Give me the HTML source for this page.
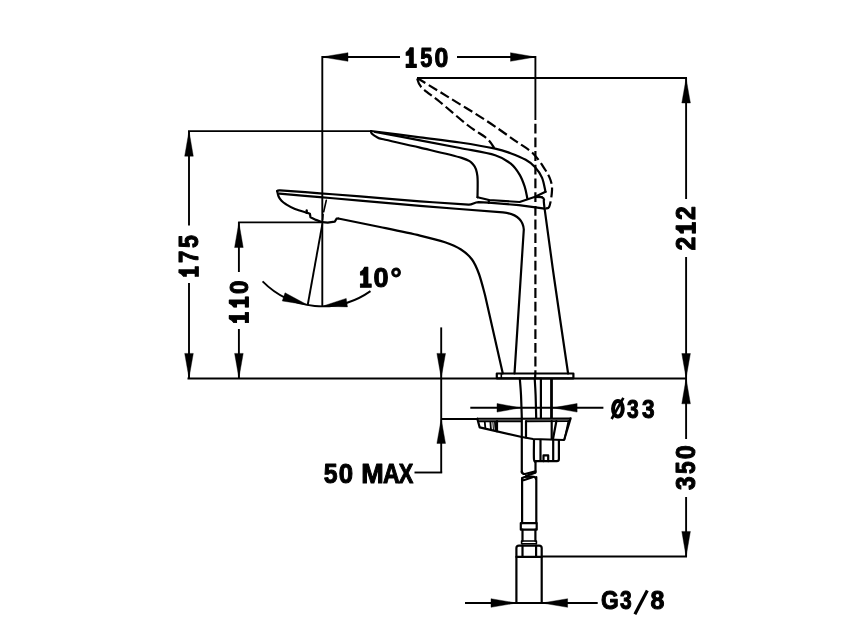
<!DOCTYPE html>
<html><head><meta charset="utf-8"><style>
html,body{margin:0;padding:0;background:#fff;width:855px;height:640px;overflow:hidden}
svg{display:block;will-change:transform}
.m{fill:none;stroke:#000;stroke-width:1.9;stroke-linecap:butt}
.d{fill:none;stroke:#000;stroke-width:2.2;stroke-linecap:round;stroke-linejoin:round}
.d2{fill:none;stroke:#000;stroke-width:2.8}
.t{fill:none;stroke:#000;stroke-width:1.6;stroke-linecap:round;stroke-linejoin:round}
.ds{fill:none;stroke:#000;stroke-width:2.2;stroke-dasharray:9.8 3.9;stroke-linecap:butt}
.ar{fill:#000;stroke:#000;stroke-width:0.4;stroke-linejoin:round}
.gl{fill:#000;stroke:#000;stroke-linejoin:round}
text{font-family:"Liberation Sans",sans-serif;font-weight:bold;fill:#000}
</style></head><body>
<svg width="855" height="640" viewBox="0 0 855 640">
<rect width="855" height="640" fill="#fff"/>
<path class="m" d="M322 57 L400 57"/>
<path class="m" d="M457 57 L535.4 57"/>
<path class="ar" d="M322 57 L348 61.3 L348 52.7 Z"/>
<path class="ar" d="M535.4 57 L510.5 52.7 L510.5 61.3 Z"/>
<path transform="matrix(10.50000 0.00000 0.00000 19.30000 406.00000 48.00000)" d="M0.37 0 L0.70 0 L0.70 0.85 L1 0.85 L1 1 L0 1 L0 0.85 L0.31 0.85 L0.31 0.37 L0 0.37 L0 0.24 Q0.26 0.16 0.37 0 Z" class="gl" stroke-width="0.0671"/>
<text transform="matrix(0.21800 0.00000 0.00000 0.27571 420.14600 67.02429)" font-size="100" class="gl" stroke-width="4.051">5</text>
<text transform="matrix(0.24792 0.00000 0.00000 0.27183 434.50833 67.02817)" font-size="100" class="gl" stroke-width="3.848">0</text>
<path class="m" d="M322.3 56 L322.3 306"/>
<path class="m" d="M535.4 56 L535.4 120"/>
<path class="ds" d="M535.4 123.7 L535.4 373.5"/>
<path class="m" d="M417 78 L687 78"/>
<path class="m" d="M686.1 78 L686.1 199"/>
<path class="m" d="M686.1 257 L686.1 378"/>
<path class="ar" d="M686.1 78.5 L681.8 103 L690.4 103 Z"/>
<path class="ar" d="M686.1 378 L690.4 353.5 L681.8 353.5 Z"/>
<text transform="matrix(0.00000 -0.24694 0.27286 0.00000 695.30000 250.54082)" font-size="100" class="gl" stroke-width="3.848">2</text>
<path transform="matrix(0.00000 -10.80000 19.10000 0.00000 676.20000 233.20000)" d="M0.37 0 L0.70 0 L0.70 0.85 L1 0.85 L1 1 L0 1 L0 0.85 L0.31 0.85 L0.31 0.37 L0 0.37 L0 0.24 Q0.26 0.16 0.37 0 Z" class="gl" stroke-width="0.0669"/>
<text transform="matrix(0.00000 -0.24694 0.27286 0.00000 695.30000 219.94082)" font-size="100" class="gl" stroke-width="3.848">2</text>
<path class="m" d="M187.5 378.5 L687 378.5"/>
<path class="m" d="M188 131.1 L371 131.1"/>
<path class="m" d="M189 131 L189 225.6"/>
<path class="m" d="M189 283 L189 378"/>
<path class="ar" d="M189 131 L184.7 156.2 L193.3 156.2 Z"/>
<path class="ar" d="M189 378 L193.3 353.4 L184.7 353.4 Z"/>
<path transform="matrix(0.00000 -10.00000 19.10000 0.00000 179.10000 276.50000)" d="M0.37 0 L0.70 0 L0.70 0.85 L1 0.85 L1 1 L0 1 L0 0.85 L0.31 0.85 L0.31 0.37 L0 0.37 L0 0.24 Q0.26 0.16 0.37 0 Z" class="gl" stroke-width="0.0687"/>
<text transform="matrix(0.00000 -0.22128 0.27681 0.00000 198.20000 262.98511)" font-size="100" class="gl" stroke-width="4.015">7</text>
<text transform="matrix(0.00000 -0.23400 0.27286 0.00000 197.92714 247.90200)" font-size="100" class="gl" stroke-width="3.946">5</text>
<path class="m" d="M238.1 222.4 L322 222.4"/>
<path class="m" d="M238.9 222 L238.9 272"/>
<path class="m" d="M238.9 329 L238.9 378"/>
<path class="ar" d="M238.9 222.5 L234.6 247.5 L243.2 247.5 Z"/>
<path class="ar" d="M238.9 378 L243.2 353.4 L234.6 353.4 Z"/>
<path transform="matrix(0.00000 -10.40000 18.90000 0.00000 229.40000 322.70000)" d="M0.37 0 L0.70 0 L0.70 0.85 L1 0.85 L1 1 L0 1 L0 0.85 L0.31 0.85 L0.31 0.37 L0 0.37 L0 0.24 Q0.26 0.16 0.37 0 Z" class="gl" stroke-width="0.0683"/>
<path transform="matrix(0.00000 -10.40000 18.90000 0.00000 229.40000 307.20000)" d="M0.37 0 L0.70 0 L0.70 0.85 L1 0.85 L1 1 L0 1 L0 0.85 L0.31 0.85 L0.31 0.37 L0 0.37 L0 0.24 Q0.26 0.16 0.37 0 Z" class="gl" stroke-width="0.0683"/>
<text transform="matrix(0.00000 -0.24167 0.26620 0.00000 248.03380 293.96667)" font-size="100" class="gl" stroke-width="3.938">0</text>
<path class="m" d="M262.59 281.39 A84 84 0 0 0 370.48 291.11"/>
<path class="m" d="M322.3 224.3 L307.71 305.02"/>
<path class="ar" d="M307.71 305.02 L285.02 292.8 L282.26 300.95 Z"/>
<path class="ar" d="M322.3 306.3 L347.49 306.88 L346.22 298.38 Z"/>
<path transform="matrix(11.00000 0.00000 0.00000 19.70000 360.30000 267.50000)" d="M0.37 0 L0.70 0 L0.70 0.85 L1 0.85 L1 1 L0 1 L0 0.85 L0.31 0.85 L0.31 0.37 L0 0.37 L0 0.24 Q0.26 0.16 0.37 0 Z" class="gl" stroke-width="0.0651"/>
<text transform="matrix(0.27083 0.00000 0.00000 0.27746 373.61667 286.92254)" font-size="100" class="gl" stroke-width="3.648">0</text>
<text transform="matrix(0.27812 0.00000 0.00000 0.28387 390.38750 287.77097)" font-size="100" class="gl" stroke-width="3.559">°</text>
<path class="m" d="M441.2 327.4 L441.2 472.5"/>
<path class="ar" d="M441.2 378 L445.5 353.4 L436.9 353.4 Z"/>
<path class="ar" d="M441.2 419 L436.9 443.4 L445.5 443.4 Z"/>
<path class="m" d="M414.5 472.5 L442.2 472.5"/>
<path class="m" d="M441.2 419 L478 419"/>
<text transform="matrix(0.24800 0.00000 0.00000 0.27857 323.85600 482.92143)" font-size="100" class="gl" stroke-width="3.798">5</text>
<text transform="matrix(0.25833 0.00000 0.00000 0.27465 338.76667 482.92535)" font-size="100" class="gl" stroke-width="3.752">0</text>
<text transform="matrix(0.27000 0.00000 0.00000 0.28261 361.31000 483.20000)" font-size="100" class="gl" stroke-width="3.619">M</text>
<text transform="matrix(0.23182 0.00000 0.00000 0.28261 383.00455 483.20000)" font-size="100" class="gl" stroke-width="3.888">A</text>
<text transform="matrix(0.21846 0.00000 0.00000 0.28261 398.68154 483.20000)" font-size="100" class="gl" stroke-width="3.991">X</text>
<path class="m" d="M470.3 407.8 L603.4 407.8"/>
<path class="ar" d="M520.3 407.8 L497 403.5 L497 412.1 Z"/>
<path class="ar" d="M553 407.8 L577.1 412.1 L577.1 403.5 Z"/>
<ellipse cx="617.9" cy="408.8" rx="4.85" ry="7.75" fill="none" stroke="#000" stroke-width="4"/>
<path d="M623.4 397.9 L611.6 419" stroke="#000" stroke-width="2.6"/>
<text transform="matrix(0.21000 0.00000 0.00000 0.25352 626.98000 417.54648)" font-size="100" class="gl" stroke-width="4.315">3</text>
<text transform="matrix(0.22600 0.00000 0.00000 0.25352 642.04800 417.54648)" font-size="100" class="gl" stroke-width="4.171">3</text>
<path class="m" d="M686.1 378 L686.1 439"/>
<path class="m" d="M686.1 497 L686.1 556.7"/>
<path class="ar" d="M686.1 378.5 L681.8 403.8 L690.4 403.8 Z"/>
<path class="ar" d="M686.1 556.5 L690.4 531.4 L681.8 531.4 Z"/>
<text transform="matrix(0.00000 -0.24400 0.27465 0.00000 695.42535 489.88800)" font-size="100" class="gl" stroke-width="3.856">3</text>
<text transform="matrix(0.00000 -0.22600 0.27857 0.00000 695.42143 473.87800)" font-size="100" class="gl" stroke-width="3.964">5</text>
<text transform="matrix(0.00000 -0.25208 0.27465 0.00000 695.42535 459.30833)" font-size="100" class="gl" stroke-width="3.797">0</text>
<path class="m" d="M541.7 556.5 L687 556.5"/>
<path class="m" d="M465 603 L597.7 603"/>
<path class="ar" d="M516.3 603 L491 598.7 L491 607.3 Z"/>
<path class="ar" d="M542 603 L567.6 607.3 L567.6 598.7 Z"/>
<text transform="matrix(0.22794 0.00000 0.00000 0.25775 601.08824 609.34225)" font-size="100" class="gl" stroke-width="4.118">G</text>
<text transform="matrix(0.21000 0.00000 0.00000 0.25775 619.98000 609.34225)" font-size="100" class="gl" stroke-width="4.276">3</text>
<path d="M647.3 590.5 L634.9 614.2" stroke="#000" stroke-width="3.2" stroke-linecap="butt"/>
<text transform="matrix(0.25000 0.00000 0.00000 0.25775 650.55000 609.34225)" font-size="100" class="gl" stroke-width="3.939">8</text>
<path class="d" d="M371 131 C379.17 132.05 405.17 135.38 420 137.3 C434.83 139.22 447.47 140.62 460 142.5 C472.53 144.38 486.78 146.82 495.2 148.6 C503.62 150.38 505.42 151.33 510.5 153.2 C515.58 155.07 521.63 157.52 525.7 159.8 C529.77 162.08 532.18 163.93 534.9 166.9 C537.62 169.87 540.23 173.45 542 177.6 C543.77 181.75 544.92 189.43 545.5 191.8"/>
<path class="d" d="M545.5 191.8 L535.2 196.8 L519.6 202 L489.1 200 L477.5 197.3"/>
<path class="d" d="M371 131 C371.12 131.42 370.62 132.42 371.7 133.5 C372.78 134.58 375.55 136.53 377.5 137.5 C379.45 138.47 376.32 137.62 383.4 139.3 C390.48 140.98 406.97 144.5 420 147.6 C433.03 150.7 452.67 155 461.6 157.9 C470.53 160.8 470.97 161.98 473.6 165 C476.23 168.02 476.75 170.62 477.4 176 C478.05 181.38 477.48 193.75 477.5 197.3"/>
<path class="d" d="M375 132 C382.5 133.38 405.83 137.63 420 140.3 C434.17 142.97 447.47 145.52 460 148 C472.53 150.48 486.78 152.63 495.2 155.2 C503.62 157.77 506.43 160.17 510.5 163.4 C514.57 166.63 517.23 170.72 519.6 174.6 C521.97 178.48 523.42 182.77 524.7 186.7 C525.98 190.63 526.87 196.28 527.3 198.2"/>
<path class="d" d="M488.8 200 L488.8 203"/>
<path class="ds" d="M417.2 78 C422.25 81.1 436.07 89.55 447.5 96.6 C458.93 103.65 474.62 113.02 485.8 120.3 C496.98 127.58 506.77 134.82 514.6 140.3 C522.43 145.78 527.73 148.33 532.8 153.2 C537.87 158.07 542.05 165.03 545 169.5 C547.95 173.97 549.33 176.48 550.5 180 C551.67 183.52 552.23 186.1 552 190.6 C551.77 195.1 550.52 204.18 549.1 207 C547.68 209.82 544.43 207.42 543.5 207.5"/>
<path class="ds" d="M417.2 78.5 C417.9 79.97 417.6 83.38 421.4 87.3 C425.2 91.22 432.22 95.63 440 102 C447.78 108.37 460.28 119.42 468.1 125.5 C475.92 131.58 482.53 134.72 486.9 138.5 C491.27 142.28 493.07 146.58 494.3 148.2"/>
<path class="d" d="M277.2 191 Q277.8 190.2 280 190.4  C286.67 190.88 306.67 192.3 320 193.3 C333.33 194.3 343.33 195.07 360 196.4 C376.67 197.73 401.92 199.92 420 201.3 C438.08 202.68 460.42 204.13 468.5 204.7 C472.5 205 474 202.3 478.5 202.2 L488.5 202.6 L518.9 205.2 L544.6 208.7"/>
<path class="d" d="M279.5 193.6 C286.25 194.18 306.58 195.93 320 197.1 C333.42 198.27 343.33 199.13 360 200.6 C376.67 202.07 396.17 203.93 420 205.9 C443.83 207.87 489.17 211.32 503 212.4 Q522.5 214.5 523.8 229.5 L514.5 373.5"/>
<path class="d" d="M277.2 191 C277.43 191.92 277.88 194.87 278.6 196.5 C279.32 198.13 280.27 199.5 281.5 200.8 C282.73 202.1 283.75 202.92 286 204.3 C288.25 205.68 291.55 207.72 295 209.1 C298.45 210.48 304.75 212.02 306.7 212.6"/>
<path class="d" d="M306.7 212.6 L309.9 213.7 L310.5 217.3 L316 219.9 L322.3 222.2 L327.7 222.6 L334.8 221.6 L336.5 218.7 L338.3 218.5"/>
<path class="d" d="M306.7 213 L306.7 210.3"/>
<path class="d" d="M338.3 218.5 C345.25 219.92 366.38 224.15 380 227 C393.62 229.85 409.17 233.05 420 235.6 C430.83 238.15 438.17 239.98 445 242.3 C451.83 244.62 456.5 246.63 461 249.5 C465.5 252.37 469 255.42 472 259.5 C475 263.58 476.83 268.08 479 274 C481.17 279.92 484 291.5 485 295 L502.8 373.5"/>
<path class="t" d="M326.3 200.3 L323.7 211.7"/>
<path class="t" d="M323.1 214.5 L322.6 220"/>
<path class="d" d="M541.8 197.2 C542.17 197.58 543.53 197.58 544 199.5 C544.47 201.42 542.87 195.28 544.6 208.7 C546.33 222.12 550.48 252.53 554.4 280 C558.32 307.47 565.82 357.92 568.1 373.5"/>
<path class="d" d="M535.2 196.8 L541.8 197.2"/>
<path class="d" d="M496.8 373.5 L573.4 373.5 L573.4 378.3 L496.8 378.3 Z"/>
<path class="t" d="M501.3 373.5 L501.3 378.3"/>
<path class="d" d="M535.3 373.5 L535.1 378.5"/>
<path class="d" d="M519.8 378.5 C520 381.25 520.67 388.42 521 395 C521.33 401.58 521.67 414.17 521.8 418"/>
<path class="d" d="M534.7 378.5 C534.85 381.25 535.35 388.42 535.6 395 C535.85 401.58 536.1 414.17 536.2 418"/>
<path class="d" d="M540.9 378.5 L540.9 418"/>
<path class="d2" d="M551.5 378.5 L551.5 418"/>
<path d="M477.3 418.8 L570.6 418.6" stroke="#000" stroke-width="2.1" fill="none"/>
<path d="M478.3 421.3 L521.8 421.2 M526 421.2 L570 421.1" stroke="#000" stroke-width="1.9" fill="none"/>
<path class="d" d="M477.3 418.7 L479.7 427.4 L521.8 437 L533 439 L564.1 440 L570.6 418.4"/>
<path class="d" d="M521.8 418.5 L521.8 472.5"/>
<path class="d" d="M526 421 L526 437.5"/>
<path d="M484.7 421 L485.4 428.79780000000005" stroke="#000" stroke-width="1.8"/>
<path d="M490.3 421 L491.0 430.06340000000006" stroke="#000" stroke-width="1.8"/>
<path d="M492.8 421 L493.5 430.62840000000006" stroke="#000" stroke-width="1.0"/>
<path d="M494.9 421 L495.59999999999997 431.103" stroke="#000" stroke-width="1.8"/>
<path class="d" d="M497 421 L497 431.3"/>
<path class="d" d="M551.7 421 L551.7 439"/>
<path class="d" d="M556.4 421 L553 439"/>
<path class="t" d="M568.4 421 L564.6 439"/>
<path class="d" d="M534 440 C534 443.25 533.67 455.97 534 459.5 C534.33 463.03 535.67 460.92 536 461.2"/>
<path class="d" d="M536 461.2 L556.9 461.2 Q558.9 461.2 558.9 459 L558.9 440"/>
<path class="d" d="M540.5 440 L540.5 461"/>
<path class="d" d="M553.2 440 L553.2 461"/>
<path class="d" d="M543.5 461.2 L543.5 455.4 L548.2 455.4 L548.2 461.2"/>
<path class="d" d="M535.5 461.5 L535.5 472.5"/>
<path class="d" d="M521.8 471.5 Q522.2 474.2 525 474 L535.5 471.2"/>
<path class="d" d="M526 476 L535.2 472.6"/>
<path class="d" d="M522 480 Q522 477.3 524.5 477 L531 476.6 Q535.8 476.3 535.9 479"/>
<path class="d" d="M523.5 480.2 L532.5 477.2"/>
<path class="d" d="M522.1 478 L522.1 523.1"/>
<path class="d" d="M536.3 477 L536.3 523.1"/>
<path class="d" d="M520.8 523.1 L536.7 523.1 L536.7 529.7 L520.8 529.7 Z"/>
<path class="d" d="M522.5 529.7 L522.5 541"/>
<path class="d" d="M535.4 529.7 L535.4 541"/>
<path class="t" d="M521.6 541 L536.4 541 L536.4 543.7 L521.6 543.7 Z"/>
<path class="d" d="M516.4 556.9 L516.4 548 Q516.4 545.6 519 545.6 L539 545.6 Q541.7 545.6 541.7 548 L541.7 556.9 Z"/>
<path class="d" d="M522.5 545.6 L522.5 556.9"/>
<path class="d" d="M536.1 545.6 L536.1 556.9"/>
<path class="d" d="M516.4 556.9 L516.4 603"/>
<path class="d" d="M541.7 556.9 L541.7 603"/>
</svg>
</body></html>
